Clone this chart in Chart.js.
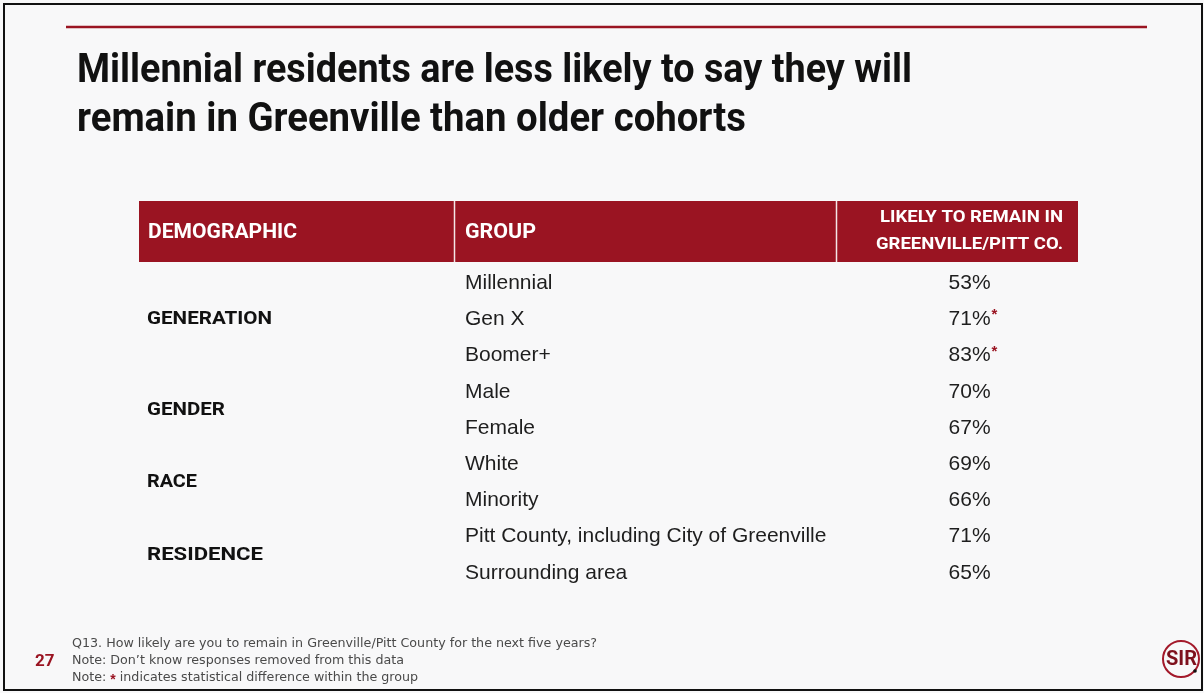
<!DOCTYPE html>
<html>
<head>
<meta charset="utf-8">
<script src="https://cdn.jsdelivr.net/npm/chart.js@4.4.1/dist/chart.umd.min.js"></script>
<style>
  html, body { margin: 0; padding: 0; background: #f8f8f9; }
  #wrap { position: relative; width: 1204px; height: 693px; }
</style>
</head>
<body>
<div id="wrap"><canvas id="tabela"></canvas></div>
<script>
  const titulo = ['Millennial residents are less likely to say they will', 'remain in Greenville than older cohorts'];
  const cabecalhos = ['DEMOGRAPHIC', 'GROUP', 'LIKELY TO REMAIN IN', 'GREENVILLE/PITT CO.'];
  const grupos = ['Millennial', 'Gen X', 'Boomer+', 'Male', 'Female', 'White', 'Minority',
    'Pitt County, including City of Greenville', 'Surrounding area'];
  const probRemanecer = [53, 71, 83, 70, 67, 69, 66, 71, 65];
  const diferencaEstatistica = [false, true, true, false, false, false, false, false, false];
  const demografias = ['GENERATION', 'GENDER', 'RACE', 'RESIDENCE'];
  const linhasDemografia = [[0, 1, 2], [3, 4], [5, 6], [7, 8]];
  const notas = [
    'Q13. How likely are you to remain in Greenville/Pitt County for the next five years?',
    'Note: Don\u2019t know responses removed from this data',
    'Note: * indicates statistical difference within the group'
  ];
  const numPagina = '27';

  const VERMELHO = '#9a1422';
  const SANS = '"Liberation Sans", Arial, sans-serif';
  const BOLD = 'Roboto, "Liberation Sans", sans-serif';
  const NARROW = '"DejaVu Sans Condensed", "Liberation Sans", sans-serif';

  // escreve o texto com escala horizontal s
  function textoEscalado(ctx, txt, x, y, s) {
    ctx.save();
    ctx.textAlign = 'left';
    ctx.translate(x, y);
    ctx.scale(s, 1);
    ctx.fillText(txt, 0, 0);
    ctx.restore();
    return ctx.measureText(txt).width * s;
  }

  // escreve o texto esticado/comprimido para ocupar a largura dada
  function textoAjustado(ctx, txt, x, y, largura, align) {
    const s = largura / ctx.measureText(txt).width;
    textoEscalado(ctx, txt, align === 'right' ? x - largura : x, y, s);
  }

  const moldura = {
    id: 'moldura',
    beforeDraw(chart) {
      const ctx = chart.ctx;
      const area = chart.chartArea;
      ctx.save();
      ctx.fillStyle = '#f8f8f9';
      ctx.fillRect(0, 0, chart.width, chart.height);

      // contorno do diapositivo
      ctx.strokeStyle = '#111';
      ctx.lineWidth = 2;
      ctx.strokeRect(4, 4, 1198, 686);

      // filete vermelho do topo
      ctx.strokeStyle = VERMELHO;
      ctx.lineWidth = 2.5;
      ctx.beginPath();
      ctx.moveTo(66, 27);
      ctx.lineTo(1147, 27);
      ctx.stroke();

      // titulo
      ctx.fillStyle = '#111';
      ctx.textBaseline = 'alphabetic';
      ctx.font = 'bold 40px ' + BOLD;
      textoAjustado(ctx, titulo[0], 77, 82, 835);
      textoAjustado(ctx, titulo[1], 77, 131, 669);

      // cabecalho da tabela
      const topo = 201, base = 262;
      ctx.fillStyle = VERMELHO;
      ctx.fillRect(area.left, topo, area.right - area.left, base - topo);
      ctx.strokeStyle = '#f4e6e8';
      ctx.lineWidth = 1.5;
      [454.5, 836.5].forEach(x => {
        ctx.beginPath();
        ctx.moveTo(x, topo);
        ctx.lineTo(x, base);
        ctx.stroke();
      });
      ctx.fillStyle = '#ffffff';
      ctx.textBaseline = 'middle';
      ctx.font = 'bold 20px ' + BOLD;
      textoAjustado(ctx, cabecalhos[0], 148, 233, 149);
      textoAjustado(ctx, cabecalhos[1], 465, 233, 71);
      ctx.font = 'bold 17px ' + BOLD;
      textoAjustado(ctx, cabecalhos[2], 1063, 218, 183, 'right');
      textoAjustado(ctx, cabecalhos[3], 1063, 245, 187, 'right');

      // notas de rodape, todas com a mesma escala
      ctx.fillStyle = '#4a4a4a';
      ctx.font = '12px ' + NARROW;
      const s = 525 / ctx.measureText(notas[0]).width;
      textoEscalado(ctx, notas[0], 72, 644, s);
      textoEscalado(ctx, notas[1], 72, 661, s);
      const n3 = notas[2].split('*');
      const w0 = textoEscalado(ctx, n3[0], 72, 678, s);
      ctx.fillStyle = VERMELHO;
      ctx.font = 'bold 14px ' + SANS;
      ctx.fillText('*', 72 + w0, 680);
      const wa = ctx.measureText('*').width;
      ctx.fillStyle = '#4a4a4a';
      ctx.font = '12px ' + NARROW;
      textoEscalado(ctx, ' ' + n3[1].trim(), 72 + w0 + wa, 678, s);

      ctx.fillStyle = VERMELHO;
      ctx.font = 'bold 17px ' + BOLD;
      ctx.fillText(numPagina, 35, 662);

      // logotipo SIR
      ctx.strokeStyle = '#a3192a';
      ctx.lineWidth = 2;
      ctx.beginPath();
      ctx.arc(1181, 659, 18, 0, Math.PI * 2);
      ctx.stroke();
      ctx.fillStyle = '#7e111d';
      ctx.font = 'bold 21px ' + BOLD;
      textoAjustado(ctx, 'SIR', 1166, 660, 31);
      ctx.fillStyle = '#111';
      ctx.beginPath();
      ctx.arc(1195, 671, 1.8, 0, Math.PI * 2);
      ctx.fill();
      ctx.restore();
    },
    afterDatasetsDraw(chart) {
      const ctx = chart.ctx;
      const meta = chart.getDatasetMeta(0);
      const area = chart.chartArea;
      const xGrupo = 465;
      const xValor = area.left + (area.right - area.left) * 0.8845;
      ctx.save();
      ctx.textBaseline = 'middle';

      meta.data.forEach((barra, i) => {
        const y = barra.y;
        ctx.fillStyle = '#1e1e1e';
        ctx.textAlign = 'left';
        ctx.font = '21px ' + SANS;
        ctx.fillText(grupos[i], xGrupo, y);

        const valor = probRemanecer[i] + '%';
        ctx.font = '21px ' + SANS;
        ctx.textAlign = 'center';
        ctx.fillText(valor, xValor, y);
        if (diferencaEstatistica[i]) {
          const w = ctx.measureText(valor).width;
          ctx.fillStyle = VERMELHO;
          ctx.font = 'bold 15px ' + SANS;
          ctx.textAlign = 'left';
          ctx.fillText('*', xValor + w / 2 + 1, y - 4);
        }
      });

      ctx.fillStyle = '#111';
      ctx.textAlign = 'left';
      ctx.font = 'bold 19px ' + BOLD;
      const larguras = [125, 78, 50, 116];
      demografias.forEach((d, k) => {
        const linhas = linhasDemografia[k];
        const y = linhas.reduce((s, i) => s + meta.data[i].y, 0) / linhas.length;
        textoAjustado(ctx, d, 147, y, larguras[k]);
      });
      ctx.restore();
    }
  };

  new Chart(document.getElementById('tabela'), {
    type: 'bar',
    data: {
      labels: grupos,
      datasets: [{
        label: 'Likely to remain in Greenville/Pitt Co.',
        data: probRemanecer,
        backgroundColor: 'rgba(0,0,0,0)',
        borderWidth: 0
      }]
    },
    options: {
      indexAxis: 'y',
      responsive: true,
      maintainAspectRatio: false,
      animation: false,
      layout: { padding: { top: 265, bottom: 102, left: 139, right: 126 } },
      scales: {
        x: { display: false, min: 0, max: 100 },
        y: { display: false }
      },
      plugins: {
        legend: { display: false },
        tooltip: { enabled: false }
      }
    },
    plugins: [moldura]
  });
</script>
</body>
</html>
